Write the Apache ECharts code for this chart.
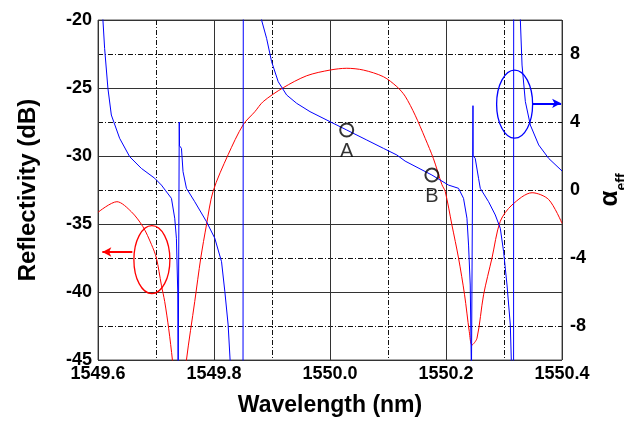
<!DOCTYPE html>
<html>
<head>
<meta charset="utf-8">
<script src="https://cdn.jsdelivr.net/npm/echarts@6/dist/echarts.min.js"></script>
<style>
html, body { margin: 0; padding: 0; background: #fff; }
#chart { width: 624px; height: 423px; }
</style>
</head>
<body>
<div id="chart"></div>
<script>
// reflectivity (left axis, dB)
var redWl = [1549.600, 1549.6326, 1549.6575, 1549.6775, 1549.6921, 1549.7007, 1549.7093, 1549.715, 1549.7219, 1549.7283,
    1549.740, 1549.7525, 1549.7668, 1549.7772, 1549.787, 1549.7984, 1549.8244, 1549.8503, 1549.8705, 1549.8848,
    1549.9193, 1549.9598, 1550.000, 1550.0288, 1550.0575, 1550.0921, 1550.1152, 1550.1295, 1550.1468, 1550.1641,
    1550.1784, 1550.1929, 1550.1986, 1550.2102, 1550.2216, 1550.232, 1550.2401, 1550.2447, 1550.2534, 1550.2648,
    1550.2793, 1550.2936, 1550.3138, 1550.3484, 1550.377, 1550.400];
var redDb = [-34.14, -33.36, -34.1, -35.2, -36.5, -37.5, -39.5, -40.7, -42.7, -45,
    -50, -45, -40.7, -37.5, -35.07, -32.6, -29.9, -27.7, -26.74, -26.0,
    -24.98, -24.1, -23.68, -23.55, -23.68, -24.17, -24.9, -25.6, -27.0, -28.7,
    -30.2, -32.1, -32.6, -35.07, -37.5, -40.2, -42.9, -43.9, -43.4, -40.2,
    -37.5, -34.8, -33.6, -32.7, -33.2, -34.95];

// effective alpha (right axis)
var blueWl = [1549.600, 1549.6085, 1549.6114, 1549.6171, 1549.623, 1549.6373, 1549.6546, 1549.6748, 1549.6978, 1549.7093,
    1549.7266, 1549.7323, 1549.7352, 1549.7375, 1549.7382, 1549.7400, 1549.7401, 1549.7405, 1549.7439, 1549.7466,
    1549.7525, 1549.7668, 1549.787, 1549.8014, 1549.813, 1549.8187, 1549.8244, 1549.8310, 1549.8500, 1549.8505,
    1549.8810, 1549.882, 1549.8907, 1549.8993, 1549.9107, 1549.9252, 1549.9425, 1549.9655, 1550.000, 1550.0288,
    1550.0634, 1550.0921, 1550.1152, 1550.1295, 1550.1757, 1550.2043, 1550.2216, 1550.2302, 1550.2361, 1550.2389,
    1550.2418, 1550.2435, 1550.2437, 1550.2463, 1550.2465, 1550.2468, 1550.2504, 1550.2561, 1550.2591, 1550.2734,
    1550.285, 1550.2936, 1550.2993, 1550.3052, 1550.3109, 1550.3126, 1550.3128, 1550.3165, 1550.3167, 1550.3278,
    1550.3282, 1550.3311, 1550.3368, 1550.3454, 1550.3598, 1550.377, 1550.400];
var blueAlpha = [14, 10, 8.33, 5.98, 4.41, 3.04, 1.96, 1.27, 0.69, 0.29,
    -0.49, -1.66, -2.84, -6, -12, -12, 4.0, 2.6, 2.45, 1.08,
    0.10, -0.69, -1.86, -2.84, -4.22, -5.98, -7.94, -12, -12, 12,
    12, 10, 8.92, 7.55, 6.37, 5.59, 5.1, 4.61, 4.02, 3.53,
    2.94, 2.45, 2.06, 1.7, 0.88, 0.29, 0.1, -0.49, -1.66, -3.24,
    -5.59, -10, -12, -12, 4.96, 2.0, 1.86, 0.69, 0.1, -0.69,
    -1.47, -2.25, -3.63, -5.59, -7.94, -10, -12, -12, 12, 12,
    10, 7.35, 5.2, 3.82, 2.65, 1.86, 1.12];

var markNames = ['A', 'B'];
var markWl = [1550.0288, 1550.1757];
var markAlpha = [3.53, 0.88];

var xTicks = [1549.6, 1549.8, 1550.0, 1550.2, 1550.4];
var leftTicks = [-45, -40, -35, -30, -25, -20];
var rightTicks = [-8, -4, 0, 4, 8];

var FONT = '"Liberation Sans", Arial, sans-serif';

function zip(a, b) {
    var out = [];
    for (var i = 0; i < a.length; i++) out.push([a[i], b[i]]);
    return out;
}

var chart = echarts.init(document.getElementById('chart'));

var option = {
    animation: false,
    backgroundColor: '#fff',
    grid: {
        left: 98, top: 20, width: 464, height: 340,
        outerBoundsMode: 'none', containLabel: false,
        show: true, borderColor: '#555', borderWidth: 1, backgroundColor: '#fff'
    },
    xAxis: {
        type: 'value',
        min: xTicks[0], max: xTicks[xTicks.length - 1], interval: 0.2,
        name: 'Wavelength (nm)',
        nameLocation: 'middle', nameGap: 34,
        nameTextStyle: { fontFamily: FONT, fontWeight: 'bold', fontSize: 23, color: '#000' },
        axisLine: { show: false },
        axisTick: { show: false },
        axisLabel: {
            margin: 5, fontFamily: FONT, fontWeight: 'bold', fontSize: 18, color: '#000',
            formatter: function (v) { return v.toFixed(1); }
        },
        splitLine: { show: true, lineStyle: { color: '#333', width: 1 } },
        minorTick: { show: false, splitNumber: 2 },
        minorSplitLine: { show: true, lineStyle: { color: '#111', width: 1, type: [5, 2, 1, 2] } }
    },
    yAxis: [{
        type: 'value',
        min: leftTicks[0], max: leftTicks[leftTicks.length - 1], interval: 5,
        name: 'Reflectivity (dB)',
        nameLocation: 'middle', nameGap: 58,
        nameTextStyle: { fontFamily: FONT, fontWeight: 'bold', fontSize: 24, color: '#000' },
        axisLine: { show: false },
        axisTick: { show: false },
        axisLabel: { margin: 6, fontFamily: FONT, fontWeight: 'bold', fontSize: 18, color: '#000' },
        splitLine: { show: true, lineStyle: { color: '#333', width: 1 } },
        minorTick: { show: false, splitNumber: 2 },
        minorSplitLine: { show: true, lineStyle: { color: '#111', width: 1, type: [5, 2, 1, 2] } }
    }, {
        type: 'value',
        position: 'right',
        min: -10, max: 10, interval: 2,
        name: '{a|α}{s|eff}',
        nameLocation: 'middle', nameGap: 34, nameRotate: 90,
        nameTextStyle: {
            rich: {
                a: { fontFamily: FONT, fontWeight: 'bold', fontSize: 26, color: '#000', verticalAlign: 'bottom' },
                s: { fontFamily: FONT, fontWeight: 'bold', fontSize: 14, color: '#000', verticalAlign: 'bottom', padding: [0, 0, -6, 0] }
            }
        },
        axisLine: { show: false },
        axisTick: { show: false },
        splitLine: { show: false },
        axisLabel: {
            margin: 8, fontFamily: FONT, fontWeight: 'bold', fontSize: 18, color: '#000',
            formatter: function (v) { return rightTicks.indexOf(v) >= 0 ? String(v) : ''; }
        }
    }],
    series: [{
        name: 'Reflectivity',
        type: 'line',
        yAxisIndex: 0,
        data: zip(redWl, redDb),
        smooth: 0.3,
        showSymbol: false,
        lineStyle: { color: '#ff0000', width: 1 },
        markLine: {
            silent: true,
            symbol: ['none', 'arrow'],
            symbolSize: [7, 9],
            label: { show: false },
            lineStyle: { color: '#ff0000', width: 2, type: 'solid' },
            data: [[{ coord: [1549.6592, -37.06] }, { coord: [1549.6075, -37.06] }]]
        }
    }, {
        name: 'alpha',
        type: 'line',
        yAxisIndex: 1,
        data: zip(blueWl, blueAlpha),
        showSymbol: false,
        lineStyle: { color: '#0000ff', width: 1 },
        markLine: {
            silent: true,
            symbol: ['none', 'arrow'],
            symbolSize: [7, 9],
            label: { show: false },
            lineStyle: { color: '#0000ff', width: 2, type: 'solid' },
            data: [[{ coord: [1550.3494, 5.1] }, { coord: [1550.3985, 5.1] }]]
        }
    }, {
        name: 'points',
        type: 'scatter',
        yAxisIndex: 1,
        data: markWl.map(function (w, i) { return { value: [w, markAlpha[i]], name: markNames[i] }; }),
        symbol: 'circle',
        symbolSize: 13,
        itemStyle: { color: 'rgba(0,0,0,0)', borderColor: '#000', borderWidth: 2 },
        label: {
            show: true, position: 'bottom', distance: 4,
            formatter: '{b}', fontFamily: FONT, fontSize: 20, color: '#000'
        },
        z: 5
    }]
};

chart.setOption(option);

// the two ellipses that tie each curve to its axis
var redC = chart.convertToPixel({ xAxisIndex: 0, yAxisIndex: 0 }, [1549.6929, -37.62]);
var blueC = chart.convertToPixel({ xAxisIndex: 0, yAxisIndex: 1 }, [1550.3183, 5.05]);
chart.setOption({
    graphic: [{
        type: 'ellipse', silent: true, z: 10,
        shape: { cx: redC[0], cy: redC[1], rx: 18, ry: 34 },
        style: { fill: null, stroke: '#ff0000', lineWidth: 1.3 }
    }, {
        type: 'ellipse', silent: true, z: 10,
        shape: { cx: blueC[0], cy: blueC[1], rx: 18, ry: 34 },
        style: { fill: null, stroke: '#0000ff', lineWidth: 1.3 }
    }]
});
</script>
</body>
</html>
